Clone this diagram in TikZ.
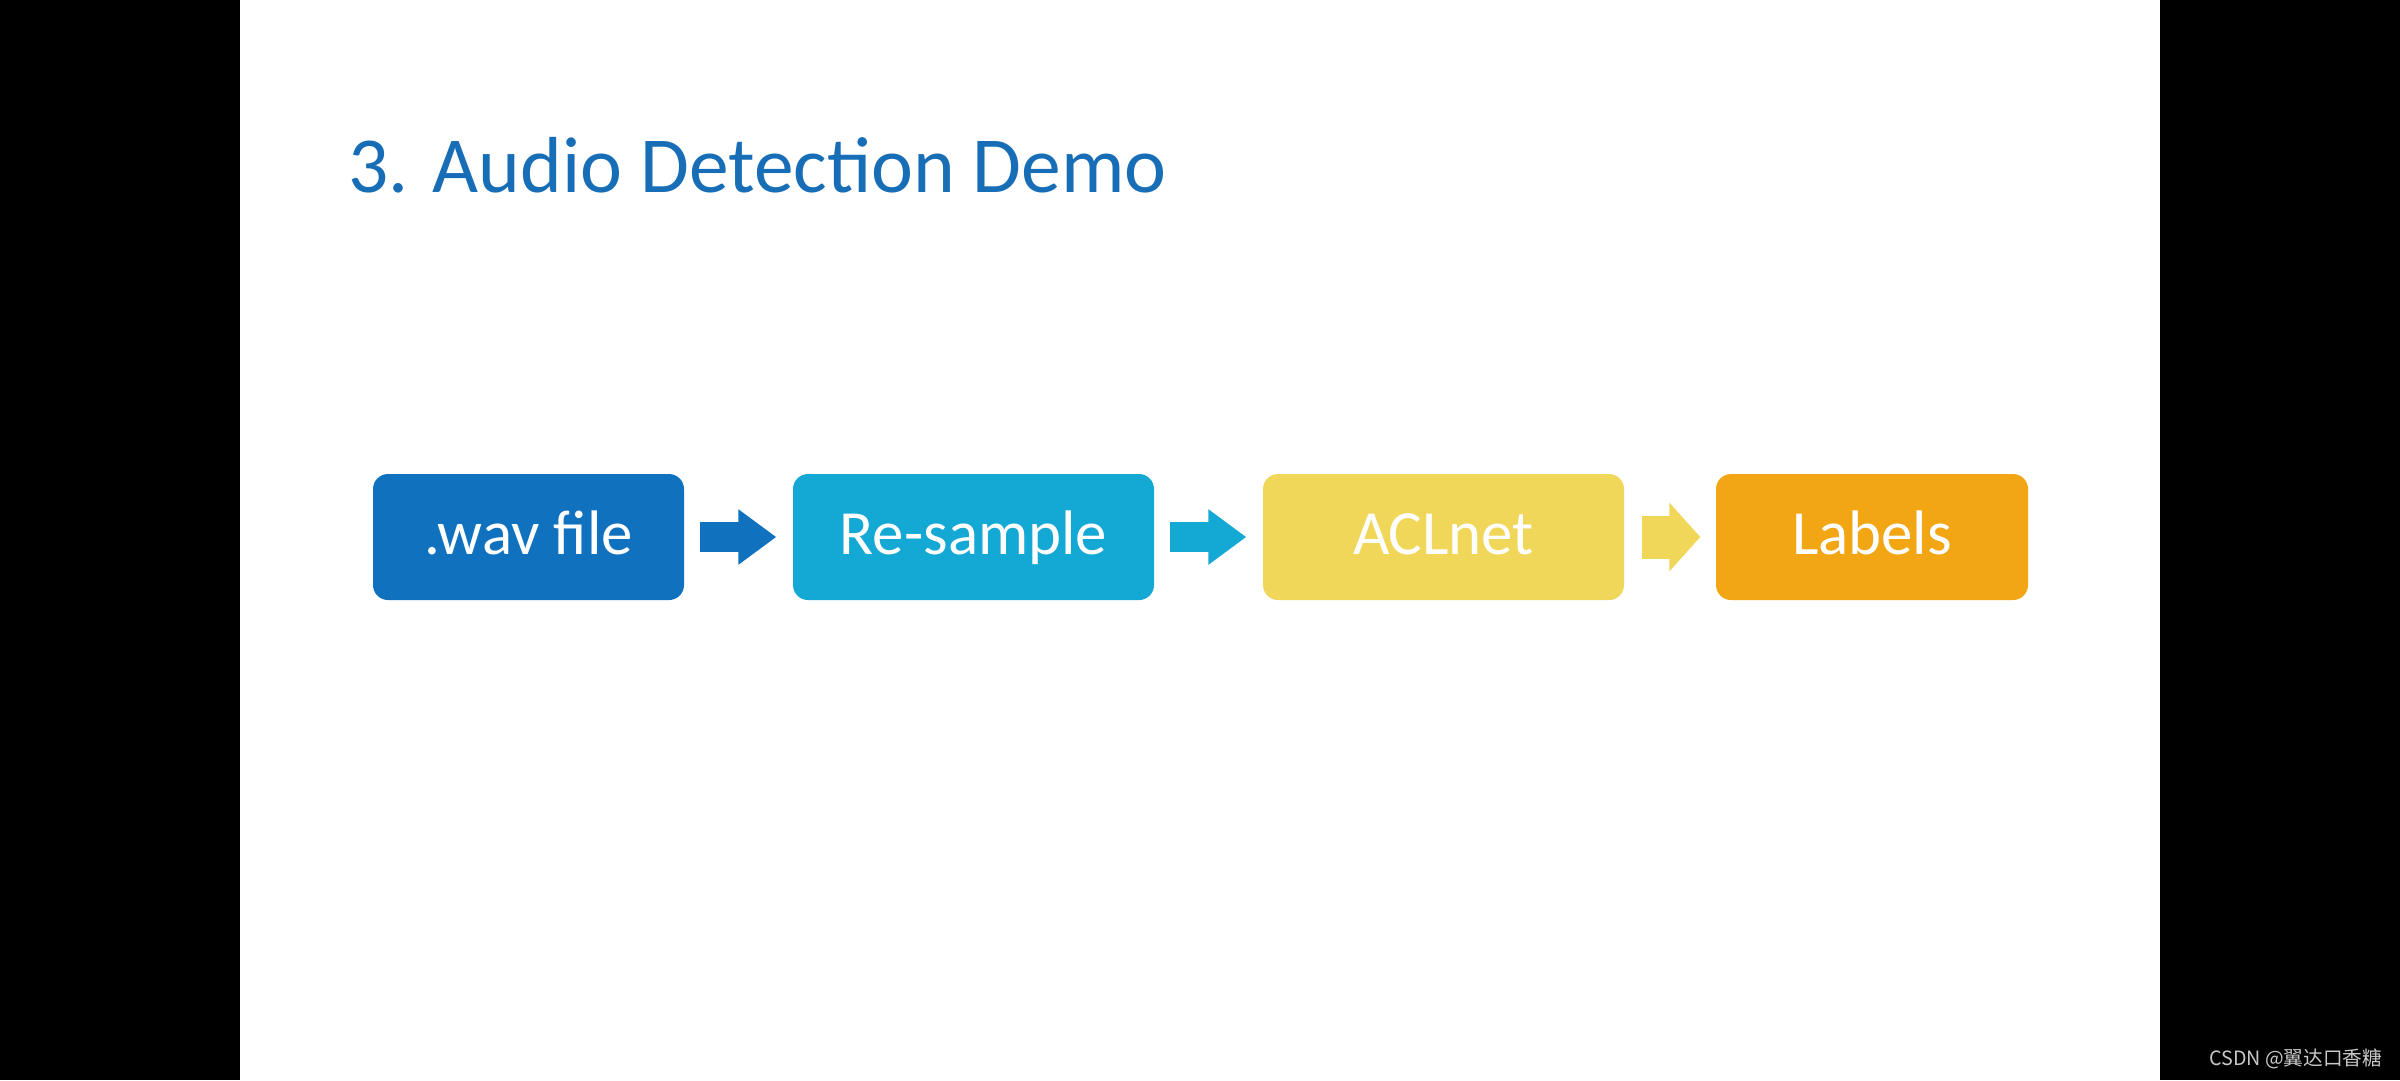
\documentclass[tikz,border=0pt]{standalone}
\usepackage{fontspec}
\setmainfont{Carlito}
\newfontfamily\cjk{Noto Sans CJK SC}
\usepackage{xcolor}
\usetikzlibrary{arrows.meta}
\definecolor{title_blue}{RGB}{24,110,182}
\definecolor{wav_blue}{RGB}{16,114,190}
\definecolor{sample_cyan}{RGB}{20,168,212}
\definecolor{net_yellow}{RGB}{240,215,90}
\definecolor{label_orange}{RGB}{242,166,20}
\tikzset{ step_box/.style = {rectangle, rounded corners=1.5mm, minimum height=12.6mm, inner sep=0pt, text height=3.4mm, text depth=0mm, text=white, font=\fontsize{17.9}{20}\selectfont} }
\tikzset{ block_arrow/.style = {line width=3mm, shorten <=1.5mm, shorten >=1.6mm, -{Triangle[length=3.8mm,width=5.3mm]}} }
\tikzset{ wide_arrow/.style = {line width=4.3mm, shorten <=1.7mm, shorten >=1.5mm, -{Triangle[length=3.1mm,width=6.7mm]}} }

\begin{document}
\begin{tikzpicture}[x=0.1mm,y=-0.1mm]
\fill[black] (0,0) rectangle (2400,1080);
\fill[white] (240,0) rectangle (2160,1080);
\node[anchor=base west, text=title_blue, inner sep=0pt, font=\fontsize{22.6}{26}\selectfont] (title) at (348,192) {3. Audio Detection Demo};
\node[step_box, fill=wav_blue, minimum width=31.1mm] (wav) at (528.5,537) {.wav file};
\node[step_box, fill=sample_cyan, minimum width=36.1mm] (resample) at (973.5,537) {Re-sample};
\node[step_box, fill=net_yellow, minimum width=36.1mm] (aclnet) at (1443.5,537) {ACLnet};
\node[step_box, fill=label_orange, minimum width=31.2mm] (labels) at (1872,537) {Labels};
\draw[block_arrow, wav_blue] (wav) -- (resample);
\draw[block_arrow, sample_cyan] (resample) -- (aclnet);
\draw[wide_arrow, net_yellow] (aclnet) -- (labels);
\node[anchor=base east, inner sep=0pt, text={rgb,255:red,200;green,200;blue,200}, font=\cjk\fontsize{5.6}{7}\selectfont] (mark) at (2383,1065) {CSDN @翼达口香糖};
\end{tikzpicture}
\end{document}
